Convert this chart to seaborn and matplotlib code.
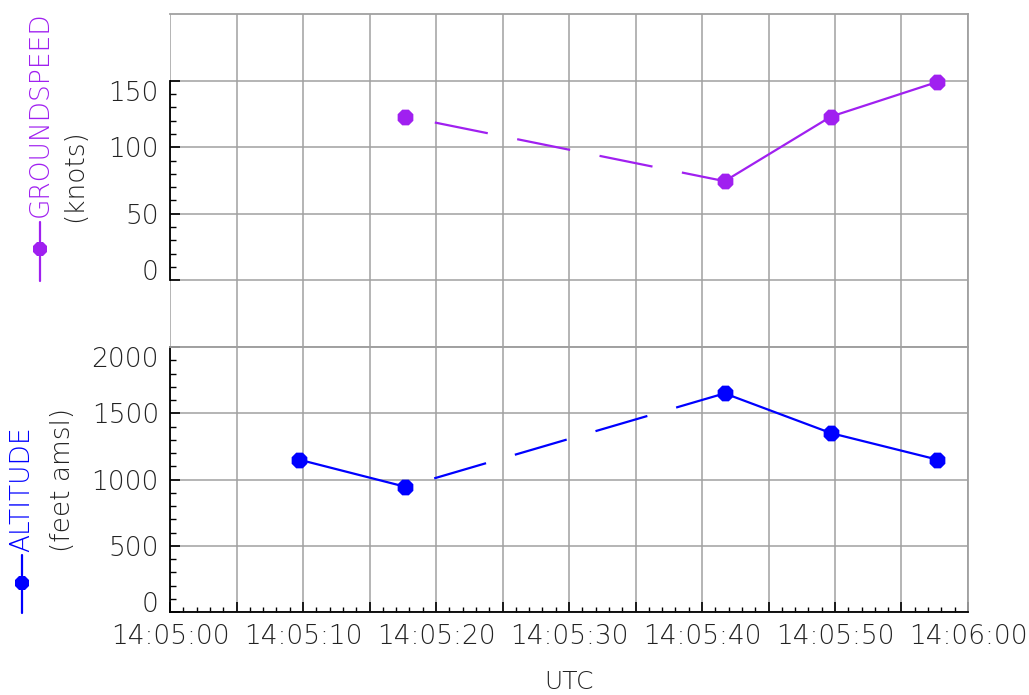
import matplotlib
matplotlib.use("Agg")
import matplotlib.pyplot as plt
import matplotlib.ticker as mticker
from matplotlib.lines import Line2D
import seaborn as sns
import pandas as pd
import numpy as np

# seconds after 14:05:00
times = [9.7, 17.7, 41.7, 49.7, 57.7]
groundspeed = [np.nan, 123, 74.5, 123, 149]
altitude = [1150, 945, 1650, 1350, 1150]
xtick_labels = ["14:05:00", "14:05:10", "14:05:20", "14:05:30",
                "14:05:40", "14:05:50", "14:06:00"]
sample_step = 8

PURPLE = "#A020F0"
BLUE = "#0000FF"
GRID = "#A0A0A0"

sns.set_style("white")
plt.rcParams["font.family"] = ["DejaVu Sans"]
plt.rcParams["font.weight"] = "light"
plt.rcParams["axes.labelweight"] = "light"
plt.rcParams["lines.scale_dashes"] = False

fig = plt.figure(figsize=(10.29, 6.95), dpi=100)
left, width = 170 / 1029, 798 / 1029
ax_gs = fig.add_axes([left, 1 - 347 / 695, width, 333 / 695])
ax_alt = fig.add_axes([left, 1 - 612 / 695, width, 265 / 695], sharex=ax_gs)


def draw_series(ax, vals, color):
    df = pd.DataFrame({"t": times, "v": vals})
    for i in range(len(df) - 1):
        seg = df.iloc[i:i + 2]
        if seg["v"].isna().any():
            continue
        dashed = seg["t"].diff().iloc[1] > sample_step + 0.5
        ls = (38.9, (38.9, 21.6)) if dashed else "-"
        sns.lineplot(data=seg, x="t", y="v", ax=ax, color=color,
                     linewidth=1.6, linestyle=ls, sort=False, zorder=3)
    pts = df.dropna()
    sns.scatterplot(data=pts, x="t", y="v", ax=ax, color=color, marker="8",
                    s=150, linewidth=0, zorder=4)


draw_series(ax_gs, groundspeed, PURPLE)
draw_series(ax_alt, altitude, BLUE)

for ax in (ax_gs, ax_alt):
    ax.set_xlim(0, 60)
    ax.xaxis.set_major_locator(mticker.MultipleLocator(5))
    ax.xaxis.set_minor_locator(mticker.MultipleLocator(1))
    ax.grid(True, which="major", color=GRID, linewidth=1.1)
    ax.set_xlabel("")
    ax.set_ylabel("")
    for s in ("top", "right", "bottom"):
        ax.spines[s].set_color(GRID)
        ax.spines[s].set_linewidth(1.3)
    ax.spines["left"].set_color("black")
    ax.spines["left"].set_linewidth(1.3)
    ax.tick_params(axis="y", which="both", direction="in", left=True,
                   color="black", labelsize=19, pad=8)
    ax.tick_params(axis="y", which="major", length=7, width=1.2)
    ax.tick_params(axis="y", which="minor", length=4, width=1.0)

# groundspeed panel (one empty cell below zero)
ax_gs.set_ylim(-50, 200)
ax_gs.yaxis.set_major_locator(mticker.FixedLocator([0, 50, 100, 150]))
ax_gs.yaxis.set_minor_locator(mticker.FixedLocator(np.arange(0, 151, 10)))
ax_gs.spines["left"].set_bounds(0, 150)
ax_gs.tick_params(axis="x", which="both", bottom=False, labelbottom=False)

# altitude panel
ax_alt.set_ylim(0, 2000)
ax_alt.yaxis.set_major_locator(mticker.FixedLocator([0, 500, 1000, 1500, 2000]))
ax_alt.yaxis.set_minor_locator(mticker.MultipleLocator(100))
ax_alt.spines["bottom"].set_color("black")
ax_alt.tick_params(axis="x", which="both", direction="in", bottom=True,
                   color="black", labelsize=19, pad=9)
ax_alt.tick_params(axis="x", which="major", length=7, width=1.2)
ax_alt.tick_params(axis="x", which="minor", length=3.5, width=1.0)
ax_alt.xaxis.set_major_formatter(mticker.FuncFormatter(
    lambda v, p: xtick_labels[int(round(v)) // 10] if int(round(v)) % 10 == 0 else ""))
ax_alt.set_xlabel("UTC", fontsize=18, fontweight="light", color="#222222", labelpad=15)

for ax in (ax_gs, ax_alt):
    ylabs = ax.get_yticklabels()
    ylabs[0].set_va("baseline")
    ylabs[-1].set_va("top")
    for lab in ax.get_xticklabels() + ylabs:
        lab.set_color("#222222")

# left-hand legend style labels
fig.text(40 / 1029, 1 - 114 / 695, "GROUNDSPEED", color=PURPLE, rotation=90,
         fontsize=19, ha="center", va="center")
fig.text(75 / 1029, 1 - 176 / 695, "(knots)", color="#222222", rotation=90,
         fontsize=19, ha="center", va="center")
fig.text(22 / 1029, 1 - 489 / 695, "ALTITUDE", color=BLUE, rotation=90,
         fontsize=19, ha="center", va="center")
fig.text(63 / 1029, 1 - 480 / 695, "(feet amsl)", color="#222222", rotation=90,
         fontsize=19, ha="center", va="center")

for xc, y0, y1, ym, col in [(40, 222, 281, 249, PURPLE), (22, 555, 613, 583, BLUE)]:
    fig.add_artist(Line2D([xc / 1029, xc / 1029], [1 - y0 / 695, 1 - y1 / 695],
                          color=col, linewidth=1.6, transform=fig.transFigure))
    fig.add_artist(Line2D([xc / 1029], [1 - ym / 695], marker="8", markersize=11.5,
                          color=col, markeredgewidth=0, transform=fig.transFigure))

fig.savefig("out.png", dpi=100)
